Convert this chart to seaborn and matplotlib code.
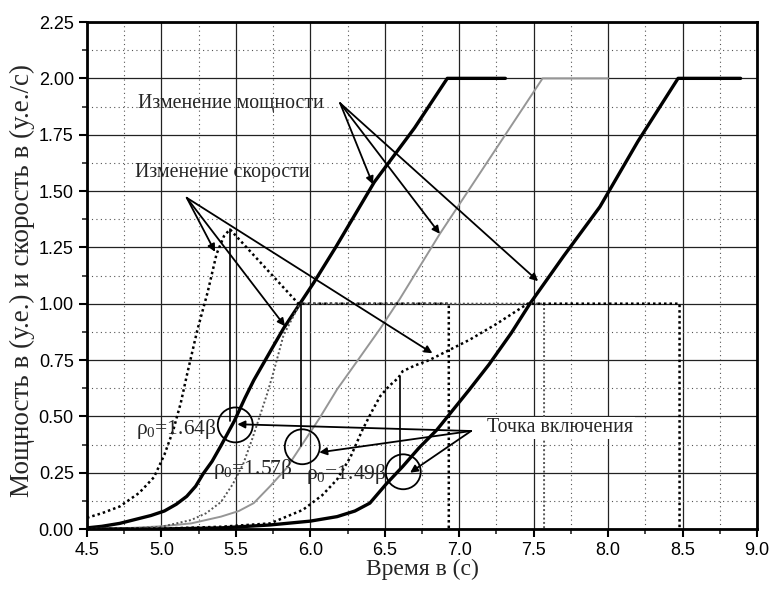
import numpy as np
import pandas as pd
import matplotlib
matplotlib.use("Agg")
import matplotlib.pyplot as plt
from matplotlib.patches import Ellipse
from matplotlib.ticker import MultipleLocator, FormatStrFormatter
import seaborn as sns

# ---------------- data ----------------
# Power curves (у.е.)
p1_t = [4.5, 4.6, 4.72, 4.84, 4.93, 5.02, 5.1, 5.17, 5.23, 5.28, 5.34, 5.4, 5.49, 5.56, 5.62,
        5.75, 5.82, 5.92, 6.02, 6.17, 6.43, 6.7, 6.92, 7.31]
p1_v = [0.005, 0.012, 0.025, 0.045, 0.06, 0.08, 0.11, 0.145, 0.19, 0.245, 0.3, 0.37, 0.48, 0.58, 0.66,
        0.81, 0.89, 0.99, 1.09, 1.25, 1.54, 1.78, 2.0, 2.0]

p2_t = [4.5, 4.8, 5.0, 5.2, 5.4, 5.52, 5.62, 5.73, 5.84, 5.95, 6.06, 6.18, 6.32, 6.47, 6.6,
        6.87, 7.2, 7.56, 8.0]
p2_v = [0.0, 0.005, 0.012, 0.025, 0.055, 0.08, 0.115, 0.19, 0.27, 0.38, 0.49, 0.62, 0.75, 0.89, 1.02,
        1.31, 1.64, 2.0, 2.0]

p3_t = [4.5, 5.0, 5.4, 5.73, 6.0, 6.18, 6.3, 6.4, 6.51, 6.62, 6.73, 6.85, 6.96, 7.07, 7.2, 7.35,
        7.475, 7.7, 7.945, 8.2, 8.47, 8.89]
p3_v = [0.0, 0.0, 0.005, 0.018, 0.035, 0.055, 0.08, 0.115, 0.2, 0.277, 0.36, 0.44, 0.53, 0.62, 0.73, 0.87,
        1.0, 1.21, 1.43, 1.72, 2.0, 2.0]

# Speed curves (у.е./с)
s1_t = [4.5, 4.6, 4.72, 4.85, 4.95, 5.02, 5.08, 5.13, 5.17, 5.24, 5.31, 5.37, 5.42, 5.46,
        5.92, 6.93, 6.93]
s1_v = [0.05, 0.07, 0.1, 0.16, 0.23, 0.33, 0.44, 0.56, 0.68, 0.88, 1.05, 1.22, 1.3, 1.33,
        1.0, 1.0, 0.0]

s2_t = [4.5, 4.8, 5.0, 5.2, 5.3, 5.4, 5.48, 5.55, 5.61, 5.66, 5.71, 5.75, 5.82, 5.93, 7.57, 7.57]
s2_v = [0.0, 0.003, 0.01, 0.04, 0.07, 0.12, 0.2, 0.29, 0.4, 0.5, 0.6, 0.69, 0.86, 1.0, 1.0, 0.0]

s3_t = [4.5, 5.0, 5.4, 5.73, 5.95, 6.08, 6.18, 6.27, 6.35, 6.42, 6.47, 6.53, 6.59, 6.62, 6.7,
        6.8, 6.95, 7.07, 7.25, 7.46, 8.48, 8.48]
s3_v = [0.0, 0.002, 0.01, 0.025, 0.085, 0.15, 0.22, 0.32, 0.44, 0.53, 0.59, 0.635, 0.67, 0.70, 0.725,
        0.75, 0.8, 0.84, 0.91, 1.0, 1.0, 0.0]

# switching points (circles) and marker verticals
switch_t = [5.496, 5.946, 6.624]
switch_v = [0.462, 0.365, 0.254]
vert_t = [5.46, 5.94, 6.60]
vert_top = [1.33, 1.0, 0.676]
vert_bot = [0.48, 0.37, 0.26]

rho_labels = [r"$\rho_0$=1.64β", r"$\rho_0$=1.57β", r"$\rho_0$=1.49β"]
rho_pos_t = [5.10, 5.61, 6.24]
rho_pos_v = [0.445, 0.265, 0.245]

xticks = [4.5, 5.0, 5.5, 6.0, 6.5, 7.0, 7.5, 8.0, 8.5, 9.0]
yticks = [0.0, 0.25, 0.5, 0.75, 1.0, 1.25, 1.5, 1.75, 2.0, 2.25]

# ---------------- style ----------------
sns.set_style("ticks")
plt.rcParams["font.family"] = ["Liberation Sans", "DejaVu Sans"]
plt.rcParams["mathtext.fontset"] = "custom"
plt.rcParams["mathtext.rm"] = "Liberation Serif"
plt.rcParams["mathtext.it"] = "Liberation Serif"
serif = ["Liberation Serif", "DejaVu Serif"]

fig = plt.figure(figsize=(7.74, 5.92), dpi=100)
ax = fig.add_axes([0.1124, 0.1064, 0.8656, 0.8564])

def line(t, v, **kw):
    df = pd.DataFrame({"t": t, "v": v})
    sns.lineplot(data=df, x="t", y="v", ax=ax, sort=False, estimator=None, **kw)

line(p1_t, p1_v, color="black", lw=2.4)
line(p2_t, p2_v, color="#969696", lw=1.4)
line(p3_t, p3_v, color="black", lw=2.4)
line(s1_t, s1_v, color="black", lw=1.8, linestyle=(0, (1, 1.2)))
line(s2_t, s2_v, color="#555555", lw=1.4, linestyle=(0, (1, 1.2)))
line(s3_t, s3_v, color="black", lw=1.8, linestyle=(0, (1, 1.2)))

for t, a, b in zip(vert_t, vert_top, vert_bot):
    ax.plot([t, t], [a, b], color="black", lw=1.2)

for t, v in zip(switch_t, switch_v):
    ax.add_patch(Ellipse((t, v), 0.235, 0.155, fill=False, edgecolor="black", lw=1.3, zorder=5))

for lab, t, v in zip(rho_labels, rho_pos_t, rho_pos_v):
    ax.text(t, v, lab, family=serif, fontsize=15.5, ha="center", va="center", zorder=6)

arrow = dict(arrowstyle="-|>", color="black", lw=1.3, mutation_scale=11, shrinkA=0, shrinkB=0)

# Изменение мощности
ax.text(5.465, 1.89, "Изменение мощности", family=serif, fontsize=14.3, ha="center", va="center")
for tgt in [(6.42, 1.53), (6.87, 1.31), (7.53, 1.10)]:
    ax.annotate("", xy=tgt, xytext=(6.20, 1.89), arrowprops=arrow)

# Изменение скорости
ax.text(5.407, 1.58, "Изменение скорости", family=serif, fontsize=14.3, ha="center", va="center")
for tgt in [(5.36, 1.23), (5.83, 0.90), (6.82, 0.78)]:
    ax.annotate("", xy=tgt, xytext=(5.17, 1.47), arrowprops=arrow)

# Точка включения
ax.text(7.19, 0.45, "Точка включения", family=serif, fontsize=14.3, ha="left", va="center",
        bbox=dict(facecolor="white", edgecolor="none", pad=1))
for tgt in [(5.51, 0.465), (6.06, 0.34), (6.67, 0.25)]:
    ax.annotate("", xy=tgt, xytext=(7.08, 0.435), arrowprops=arrow)

# axes
ax.set_xlim(4.5, 9.0)
ax.set_ylim(0, 2.25)
ax.set_xticks(xticks)
ax.set_yticks(yticks)
ax.xaxis.set_major_formatter(FormatStrFormatter("%.1f"))
ax.yaxis.set_major_formatter(FormatStrFormatter("%.2f"))
ax.xaxis.set_minor_locator(MultipleLocator(0.25))
ax.yaxis.set_minor_locator(MultipleLocator(0.125))
ax.grid(which="major", color="#222222", lw=0.9, linestyle="-")
ax.grid(which="minor", color="#555555", lw=0.8, linestyle=(0, (1, 3)))
ax.set_axisbelow(True)
ax.tick_params(which="major", direction="out", length=6, width=1.5, labelsize=13, colors="black")
ax.tick_params(which="minor", direction="out", length=3.5, width=1.2)
for s in ax.spines.values():
    s.set_visible(True)
    s.set_linewidth(2.0)
    s.set_color("black")

ax.set_xlabel("Время в (с)", family=serif, fontsize=17, labelpad=0)
ax.set_ylabel("Мощность в (у.е.) и скорость в (у.е./с)", family=serif, fontsize=19.5)
ax.yaxis.set_label_coords(-0.078, 0.49)

fig.savefig("out.png", dpi=100)
